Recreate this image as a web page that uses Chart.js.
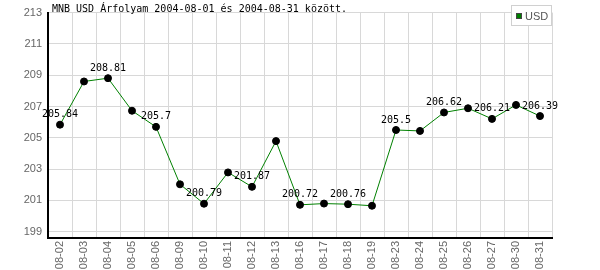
<!DOCTYPE html>
<html>
<head>
<meta charset="utf-8">
<script src="https://cdn.jsdelivr.net/npm/chart.js@4/dist/chart.umd.min.js"></script>
<style>
  html, body { margin: 0; padding: 0; background: #fff; }
  #wrap { width: 600px; height: 270px; }
</style>
</head>
<body>
<div id="wrap"><canvas id="grafica"></canvas></div>
<script>
// Datos
var titulo = 'MNB USD Árfolyam 2004-08-01 és 2004-08-31 között.';
var serieNombre = 'USD';
var fechas = ['08-02', '08-03', '08-04', '08-05', '08-06', '08-09', '08-10', '08-11', '08-12', '08-13',
              '08-16', '08-17', '08-18', '08-19', '08-23', '08-24', '08-25', '08-26', '08-27', '08-30', '08-31'];
var usd = [205.84, 208.6, 208.81, 206.73, 205.7, 202.03, 200.79, 202.79, 201.87, 204.79,
           200.72, 200.8, 200.76, 200.66, 205.5, 205.44, 206.62, 206.89, 206.21, 207.1, 206.39];
// etiquetas visibles sobre algunos puntos (null = sin etiqueta)
var etiquetas = ['205.84', null, '208.81', null, '205.7', null, '200.79', null, '201.87', null,
                 '200.72', null, '200.76', null, '205.5', null, '206.62', null, '206.21', null, '206.39'];
var yTicks = [199, 201, 203, 205, 207, 209, 211, 213];

var MONO = '"DejaVu Sans Mono", monospace';
var SANS = '"Liberation Sans", Arial, sans-serif';

// Título, leyenda y valores dibujados encima del área del gráfico
var extras = {
    id: 'extras',
    afterDatasetsDraw: function (chart) {
        var ctx = chart.ctx;
        var area = chart.chartArea;
        var meta = chart.getDatasetMeta(0);
        ctx.save();
        // valores
        ctx.font = '10px ' + MONO;
        ctx.fillStyle = '#000';
        ctx.textAlign = 'center';
        ctx.textBaseline = 'middle';
        meta.data.forEach(function (pt, i) {
            if (etiquetas[i]) ctx.fillText(etiquetas[i], pt.x, pt.y - 10);
        });
        // título
        ctx.textAlign = 'left';
        ctx.fillText(titulo, area.left + 4, area.top - 3);
        // leyenda
        var bx = area.right - 41, by = 5, bw = 41, bh = 21;
        ctx.fillStyle = '#fff';
        ctx.fillRect(bx, by, bw, bh);
        ctx.strokeStyle = '#d0d0d0';
        ctx.lineWidth = 1;
        ctx.strokeRect(bx + 0.5, by + 0.5, bw - 1, bh - 1);
        ctx.fillStyle = '#008000';
        ctx.fillRect(bx + 5, by + 8, 6, 6);
        ctx.strokeStyle = '#444';
        ctx.strokeRect(bx + 5.5, by + 8.5, 5, 5);
        ctx.fillStyle = '#555';
        ctx.font = '11px ' + SANS;
        ctx.fillText(serieNombre, bx + 14, by + 11.5);
        ctx.restore();
    }
};

var ctx = document.getElementById('grafica').getContext('2d');
var grafica = new Chart(ctx, {
    type: 'line',
    data: {
        labels: fechas,
        datasets: [{
            label: serieNombre,
            data: usd,
            borderColor: '#008000',
            borderWidth: 1,
            pointBackgroundColor: '#000',
            pointBorderColor: '#000',
            pointRadius: 3.5,
            tension: 0,
            fill: false
        }]
    },
    options: {
        responsive: true,
        maintainAspectRatio: false,
        animation: false,
        layout: { padding: { top: 12, right: 48, left: 0, bottom: 0 } },
        scales: {
            x: {
                offset: true,
                grid: { color: '#d8d8d8', drawTicks: false, offset: true },
                border: { color: '#000', width: 2 },
                ticks: {
                    autoSkip: false,
                    maxRotation: 90,
                    minRotation: 90,
                    padding: 3,
                    color: '#666',
                    font: { family: SANS, size: 11 }
                },
                afterFit: function (scale) { scale.height = 32; }
            },
            y: {
                min: 198.6,
                max: 213,
                grid: { color: '#d8d8d8', drawTicks: false },
                border: { color: '#000', width: 2 },
                ticks: {
                    padding: 6,
                    color: '#666',
                    font: { family: SANS, size: 11 }
                },
                afterBuildTicks: function (scale) {
                    scale.ticks = yTicks.map(function (v) { return { value: v }; });
                },
                afterFit: function (scale) { scale.width = 48; }
            }
        },
        plugins: {
            legend: { display: false },
            tooltip: { enabled: false }
        }
    },
    plugins: [extras]
});
</script>
</body>
</html>
